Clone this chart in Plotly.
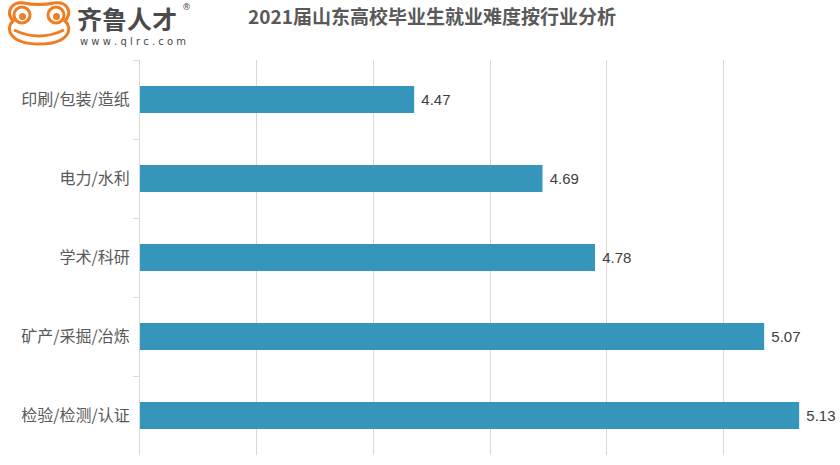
import plotly.graph_objects as go

categories = ["印刷/包装/造纸", "电力/水利", "学术/科研", "矿产/采掘/冶炼", "检验/检测/认证"]
values = [4.47, 4.69, 4.78, 5.07, 5.13]
value_labels = ["4.47", "4.69", "4.78", "5.07", "5.13"]

W, H = 840, 465
L, R, T, B = 140, 0, 60, 10
PW, PH = W - L - R, H - T - B

def px(x):
    return (x - L) / PW

def py(y):
    return (H - B - y) / PH

FONT = "Noto Sans CJK SC, Noto Sans, sans-serif"

fig = go.Figure(go.Bar(
    x=values, y=categories, orientation="h",
    marker=dict(color="#3595bb", line=dict(width=0)),
    text=value_labels, texttemplate=" %{text}", textposition="outside",
    textfont=dict(size=15, color="#404040", family="Liberation Sans, Arial, sans-serif"),
    cliponaxis=False, hoverinfo="skip",
))

orange = "#f07d22"
shapes = []
hd = ("M {a} {b} C {c1} {d1} {c2} {d2} {e} {f} "
      "C {g1} {h1} {g2} {h2} {i} {j} "
      "C {k1} {l1} {k2} {l2} {m} {n} "
      "C {o1} {p1} {o2} {p2} {q} {r} "
      "C {s1} {t1} {s2} {t2} {u} {v} Z")
P = lambda x, y: (px(x), py(y))
vals = {}
def setp(k1, k2, pt):
    vals[k1], vals[k2] = P(*pt)
setp("a", "b", (13, 21))
setp("c1", "d1", (5, 12)); setp("c2", "d2", (12, 1)); setp("e", "f", (24, 3))
setp("g1", "h1", (32, 5)); setp("g2", "h2", (45, 5)); setp("i", "j", (54, 3))
setp("k1", "l1", (67, 1)); setp("k2", "l2", (73, 12)); setp("m", "n", (65, 21))
setp("o1", "p1", (73, 28)); setp("o2", "p2", (70, 44)); setp("q", "r", (39, 44))
setp("s1", "t1", (9, 44)); setp("s2", "t2", (5, 28)); setp("u", "v", (13, 21))
shapes.append(dict(type="path", path=hd.format(**vals), xref="paper", yref="paper",
                   line=dict(color=orange, width=3), fillcolor="white", layer="above"))
for cx in (22, 56):
    shapes.append(dict(type="circle", xref="paper", yref="paper",
                       x0=px(cx - 8), x1=px(cx + 8), y0=py(23), y1=py(7),
                       line=dict(color=orange, width=3), fillcolor="white", layer="above"))
    shapes.append(dict(type="circle", xref="paper", yref="paper",
                       x0=px(cx - 3), x1=px(cx + 4), y0=py(20), y1=py(13),
                       line=dict(width=0), fillcolor=orange, layer="above"))
sm = "M {} {} Q {} {} {} {}".format(px(14), py(30), px(39), py(42), px(64), py(30))
shapes.append(dict(type="path", path=sm, xref="paper", yref="paper",
                   line=dict(color=orange, width=3), layer="above"))

annotations = [
    dict(text="<b>齐鲁人才</b>", x=px(75), y=py(17.5), xref="paper", yref="paper",
         xanchor="left", yanchor="middle", showarrow=False,
         font=dict(size=25, color="#4a4a4a", family=FONT)),
    dict(text="w w w . q l r c . c o m", x=px(78), y=py(41.5), xref="paper", yref="paper",
         xanchor="left", yanchor="middle", showarrow=False,
         font=dict(size=10, color="#4a4a4a", family="DejaVu Sans, sans-serif")),
    dict(text="®", x=px(186), y=py(7), xref="paper", yref="paper",
         xanchor="center", yanchor="middle", showarrow=False,
         font=dict(size=9, color="#4a4a4a", family="DejaVu Sans, sans-serif")),
]

fig.update_layout(
    width=W, height=H,
    margin=dict(l=L, r=R, t=T, b=B),
    paper_bgcolor="white", plot_bgcolor="white",
    showlegend=False,
    bargap=0.66,
    title=dict(text="<b>2021届山东高校毕业生就业难度按行业分析</b>",
               x=432 / W, xanchor="center",
               y=1 - 17 / H, yref="container", yanchor="middle",
               font=dict(size=19, color="#595959", family=FONT)),
    xaxis=dict(range=[4.0, 5.2], dtick=0.2, tick0=4.0, showgrid=True, gridcolor="#d9d9d9",
               gridwidth=1, showticklabels=False, zeroline=False, showline=False, ticks=""),
    yaxis=dict(categoryorder="array", categoryarray=categories, autorange="reversed",
               showline=True, linecolor="#d9d9d9", linewidth=1,
               ticks="outside", tickson="boundaries", ticklen=6, tickcolor="#d9d9d9",
               ticklabelstandoff=6,
               tickfont=dict(size=16, color="#595959", family=FONT), showgrid=False),
    shapes=shapes,
    annotations=annotations,
)

fig.write_html("out.html")
